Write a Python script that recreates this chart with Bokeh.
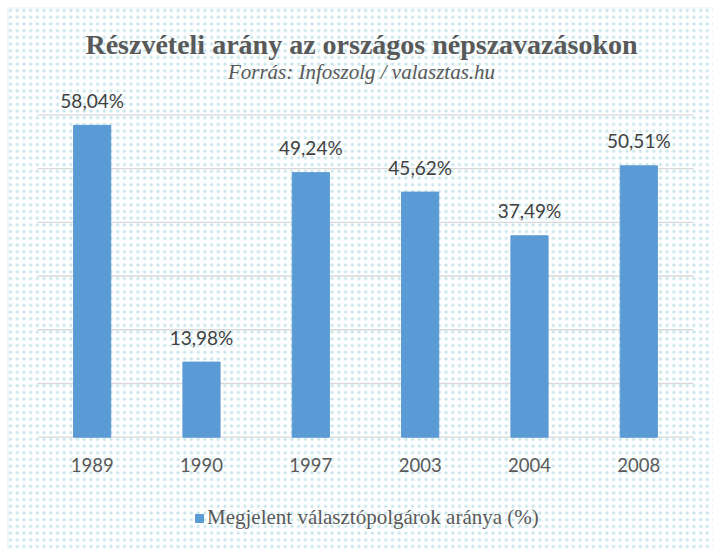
from bokeh.plotting import figure
from bokeh.models import Range1d, FixedTicker, Label, ColumnDataSource, BoxAnnotation
from bokeh.core.properties import value
from bokeh.embed import file_html
from bokeh.resources import INLINE

years = ["1989", "1990", "1997", "2003", "2004", "2008"]
turnout = [58.04, 13.98, 49.24, 45.62, 37.49, 50.51]
labels = [f"{v:.2f}".replace(".", ",") + "%" for v in turnout]
grid_ticks = [0, 10, 20, 30, 40, 50, 60]
title_text = "Részvételi arány az országos népszavazásokon"
subtitle_text = "Forrás: Infoszolg / valasztas.hu"
legend_text = "Megjelent választópolgárok aránya (%)"

xs = list(range(1, len(years) + 1))
src = ColumnDataSource(dict(x=xs, val=turnout, lab=labels))
gsrc = ColumnDataSource(dict(x0=[xs[0] - 0.5] * len(grid_ticks),
                             x1=[xs[-1] + 0.5] * len(grid_ticks),
                             y=grid_ticks))

W, H = 713, 549
p = figure(x_range=Range1d(0.1616, 6.683), y_range=Range1d(-20.90, 81.28),
           width=W, height=H, output_backend="svg", toolbar_location=None,
           title=None, min_border=0, min_border_left=0, min_border_right=0,
           min_border_top=0, min_border_bottom=0)
p.background_fill_color = "white"
p.border_fill_color = "white"
p.outline_line_color = None

bg = BoxAnnotation(left=7.5, right=W + 10, top=H - 7.5, bottom=-10,
                   left_units="screen", right_units="screen",
                   top_units="screen", bottom_units="screen",
                   fill_color="white", fill_alpha=1.0,
                   line_color="#a8d3db", line_width=1.2,
                   hatch_pattern="dot", hatch_scale=6.7, hatch_weight=0.4,
                   hatch_color="#8fcbd5", hatch_alpha=0.5, level="underlay")
p.add_layout(bg)

p.xgrid.visible = False
p.ygrid.visible = False
p.yaxis.visible = False

p.segment(x0="x0", x1="x1", y0="y", y1="y", source=gsrc,
          line_color="#d9d9d9", line_width=1.3)

p.vbar(x="x", top="val", width=0.34, source=src, color="#5b9bd5",
       legend_label=legend_text)
p.text(x="x", y="val", text="lab", source=src, text_align="center",
       text_baseline="middle", y_offset=-25, text_font=value("Lato"),
       text_font_size="19px", text_color="#404040")

ax = p.xaxis[0]
ax.fixed_location = 0
ax.ticker = FixedTicker(ticks=xs)
ax.major_label_overrides = {x: y for x, y in zip(xs, years)}
ax.axis_line_color = None
ax.major_tick_line_color = None
ax.minor_tick_line_color = None
ax.major_label_standoff = 15
ax.major_label_text_font = "Lato"
ax.major_label_text_font_size = "18.5px"
ax.major_label_text_color = "#595959"

p.add_layout(Label(x=361, y=H - 44, x_units="screen", y_units="screen",
                   text=title_text, text_align="center", text_baseline="middle",
                   text_font="Liberation Serif", text_font_style="bold",
                   text_font_size="28px", text_color="#595959"))
p.add_layout(Label(x=361, y=H - 71, x_units="screen", y_units="screen",
                   text=subtitle_text, text_align="center", text_baseline="middle",
                   text_font="Liberation Serif", text_font_style="italic",
                   text_font_size="21px", text_color="#595959"))

lg = p.legend[0]
lg.location = (189, 14)
lg.orientation = "horizontal"
lg.margin = 0
lg.padding = 5
lg.background_fill_alpha = 0
lg.border_line_alpha = 0
lg.glyph_width = 10
lg.glyph_height = 10
lg.label_standoff = 3
lg.label_text_font = "Liberation Serif"
lg.label_text_font_size = "21px"
lg.label_text_color = "#595959"

open("out.html", "w").write(file_html(p, INLINE))
